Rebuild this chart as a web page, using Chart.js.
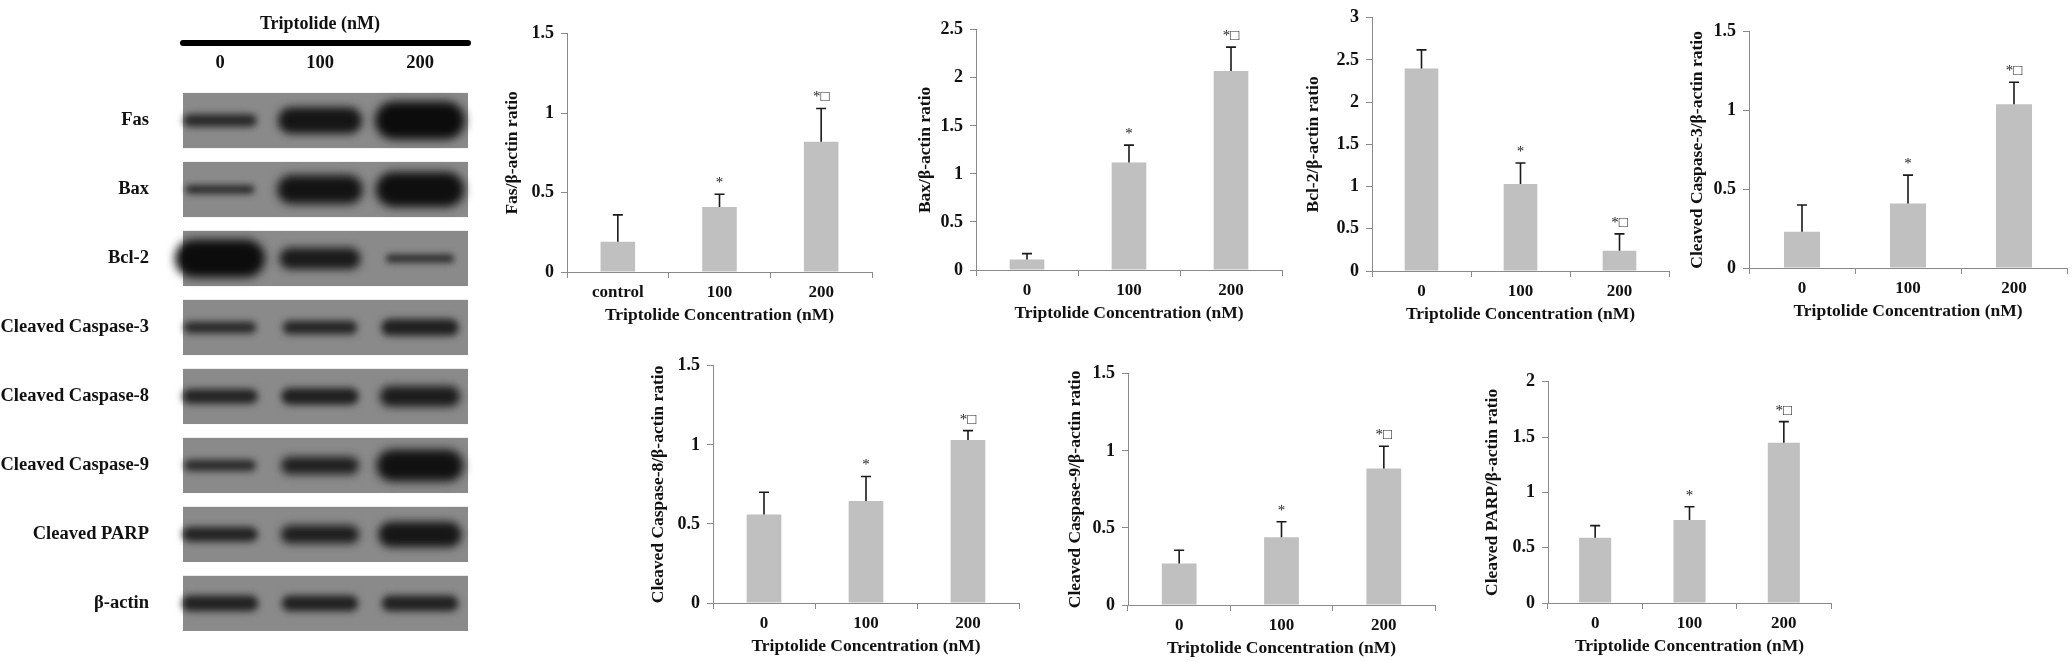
<!DOCTYPE html>
<html>
<head>
<meta charset="utf-8">
<script src="https://cdn.jsdelivr.net/npm/chart.js@4.4.0/dist/chart.umd.min.js"></script>
<style>
  html, body { margin: 0; padding: 0; background: #fff; }
  #fig { position: relative; width: 2072px; height: 662px; overflow: hidden; }
  #fig canvas { position: absolute; }
</style>
</head>
<body>
<div id="fig"></div>
<script>
// ---- data ----
const doseLabels = ['0', '100', '200']
const fasLabels  = ['control', '100', '200']
const marks      = ['', '*', '*\u25A1']

const fasRatio   = [0.19, 0.41, 0.82]
const fasErr     = [0.17, 0.08, 0.21]
const baxRatio   = [0.11, 1.12, 2.07]
const baxErr     = [0.06, 0.18, 0.25]
const bcl2Ratio  = [2.40, 1.03, 0.24]
const bcl2Err    = [0.22, 0.25, 0.20]
const casp3Ratio = [0.23, 0.41, 1.04]
const casp3Err   = [0.17, 0.18, 0.14]
const casp8Ratio = [0.56, 0.645, 1.03]
const casp8Err   = [0.14, 0.155, 0.06]
const casp9Ratio = [0.27, 0.44, 0.885]
const casp9Err   = [0.085, 0.10, 0.145]
const parpRatio  = [0.59, 0.75, 1.45]
const parpErr    = [0.11, 0.12, 0.19]

// western blot: relative band density per protein (rows) and lane (cols)
const blotLanes    = ['0', '100', '200']
const blotProteins = ['Fas', 'Bax', 'Bcl-2', 'Cleaved Caspase-3', 'Cleaved Caspase-8',
                      'Cleaved Caspase-9', 'Cleaved PARP', '\u03B2-actin']
const bandDensity = [
  [0.45, 0.80, 1.00],
  [0.30, 0.85, 0.95],
  [1.00, 0.70, 0.28],
  [0.42, 0.48, 0.58],
  [0.52, 0.58, 0.68],
  [0.40, 0.60, 0.90],
  [0.52, 0.62, 0.78],
  [0.55, 0.55, 0.55],
]

Chart.defaults.font.family = '"Liberation Serif", "Times New Roman", serif'
Chart.defaults.font.weight = 'bold'
Chart.defaults.color = '#111'

const fig = document.getElementById('fig')
const AXIS = '#8a8a8a'

function addCanvas(left, top, w, h) {
  const c = document.createElement('canvas')
  c.width = w; c.height = h
  c.style.left = left + 'px'; c.style.top = top + 'px'
  c.style.width = w + 'px'; c.style.height = h + 'px'
  fig.appendChild(c)
  return c
}

// error bars + significance marks
const errorBars = {
  id: 'errorBars',
  afterDatasetsDraw(chart) {
    const { ctx, scales: { y } } = chart
    const ds = chart.data.datasets[0]
    ctx.save()
    chart.getDatasetMeta(0).data.forEach((bar, i) => {
      const top = y.getPixelForValue(ds.data[i] + ds.errors[i])
      ctx.strokeStyle = '#1a1a1a'; ctx.lineWidth = 1.6
      ctx.beginPath()
      ctx.moveTo(bar.x, bar.y); ctx.lineTo(bar.x, top)
      ctx.moveTo(bar.x - 5, top); ctx.lineTo(bar.x + 5, top)
      ctx.stroke()
      if (ds.marks[i]) {
        ctx.fillStyle = '#222'
        ctx.font = '15px "Liberation Serif", "DejaVu Sans", serif'
        ctx.textAlign = 'center'; ctx.textBaseline = 'alphabetic'
        ctx.fillText(ds.marks[i], bar.x, top - 7)
      }
    })
    ctx.restore()
  }
}

function barPanel(p) {
  const [ax0, ax1, ay0, ay1] = p.box
  const YW = p.gap + 10, XH = 54, padTop = Math.min(14, ay0), padRight = 4
  const cv = addCanvas(ax0 - YW, ay0 - padTop, YW + (ax1 - ax0) + padRight, padTop + (ay1 - ay0) + XH)
  new Chart(cv, {
    type: 'bar',
    data: {
      labels: p.labels,
      datasets: [{ data: p.values, errors: p.errors, marks: marks,
                   backgroundColor: '#c0c0c0', borderWidth: 0,
                   barPercentage: 0.34, categoryPercentage: 1 }]
    },
    plugins: [errorBars],
    options: {
      responsive: false, animation: false,
      layout: { padding: { top: padTop, right: padRight, left: 0, bottom: 0 }, autoPadding: false },
      plugins: { legend: { display: false }, tooltip: { enabled: false } },
      scales: {
        x: {
          grid: { drawOnChartArea: false, color: AXIS, tickLength: 6, offset: true },
          border: { color: AXIS, width: 1 },
          ticks: { font: { size: 17 }, padding: 4, color: '#111' },
          title: { display: true, text: 'Triptolide Concentration (nM)', font: { size: 17.5 }, padding: 0, color: '#111' },
          afterFit: s => { s.height = XH }
        },
        y: {
          min: 0, max: p.max,
          grid: { drawOnChartArea: false, color: AXIS, tickLength: 6 },
          border: { color: AXIS, width: 1 },
          ticks: { stepSize: 0.5, font: { size: 18 }, padding: 7, color: '#111',
                   callback: v => String(Math.round(v * 10) / 10) },
          title: { display: true, text: p.title, font: { size: 17.5 }, padding: 0, color: '#111' },
          afterFit: s => { s.width = YW }
        }
      }
    }
  })
}

// box = [axis left, axis right, y of max, y of 0]
barPanel({ title: 'Fas/\u03B2-actin ratio', labels: fasLabels, values: fasRatio, errors: fasErr, max: 1.5, box: [567, 872, 30, 272], gap: 55 })
barPanel({ title: 'Bax/\u03B2-actin ratio', labels: doseLabels, values: baxRatio, errors: baxErr, max: 2.5, box: [976, 1282, 26, 270], gap: 51 })
barPanel({ title: 'Bcl-2/\u03B2-actin ratio', labels: doseLabels, values: bcl2Ratio, errors: bcl2Err, max: 3, box: [1372, 1669, 10, 271], gap: 59 })
barPanel({ title: 'Cleaved Caspase-3/\u03B2-actin ratio', labels: doseLabels, values: casp3Ratio, errors: casp3Err, max: 1.5, box: [1749, 2067, 28, 268], gap: 52 })
barPanel({ title: 'Cleaved Caspase-8/\u03B2-actin ratio', labels: doseLabels, values: casp8Ratio, errors: casp8Err, max: 1.5, box: [713, 1019, 362, 603], gap: 55 })
barPanel({ title: 'Cleaved Caspase-9/\u03B2-actin ratio', labels: doseLabels, values: casp9Ratio, errors: casp9Err, max: 1.5, box: [1128, 1435, 370, 605], gap: 53 })
barPanel({ title: 'Cleaved PARP/\u03B2-actin ratio', labels: doseLabels, values: parpRatio, errors: parpErr, max: 2, box: [1548, 1831, 378, 603], gap: 56 })

// ---- western blot panel ----
const blotDraw = {
  id: 'blotDraw',
  beforeDatasetsDraw(chart) {
    const { ctx, scales: { x, y } } = chart
    const px = x.getPixelForValue(1) - x.getPixelForValue(0)
    const py = y.getPixelForValue(1) - y.getPixelForValue(0)
    const mL = x.getPixelForValue(0) - 0.37 * px
    const mR = x.getPixelForValue(2) + 0.48 * px
    ctx.save()
    ctx.strokeStyle = '#000'; ctx.lineWidth = 6; ctx.lineCap = 'round'
    ctx.beginPath(); ctx.moveTo(mL, x.top + 43); ctx.lineTo(mR, x.top + 43); ctx.stroke()
    blotProteins.forEach((p, i) => {
      const cy = y.getPixelForValue(i)
      ctx.fillStyle = '#8a8a8a'
      ctx.fillRect(mL, cy - 0.4 * py, mR - mL, 0.8 * py)
    })
    const pts = chart.data.datasets[0].data
    chart.getDatasetMeta(0).data.forEach((pt, k) => {
      const d = pts[k].d
      const hh = 6 + 32 * d * d, ww = 60 + 30 * d
      ctx.filter = `blur(${2.5 + 2.5 * d}px)`
      ctx.fillStyle = `rgba(12,12,12,${0.62 + 0.38 * d})`
      ctx.beginPath()
      if (ctx.roundRect) ctx.roundRect(pt.x - ww / 2, pt.y - hh / 2, ww, hh, hh / 2)
      else ctx.ellipse(pt.x, pt.y, ww / 2, hh / 2, 0, 0, 2 * Math.PI)
      ctx.fill()
    })
    ctx.filter = 'none'
    ctx.restore()
  }
}

const blotCanvas = addCanvas(0, 0, 480, 662)
new Chart(blotCanvas, {
  type: 'scatter',
  data: {
    datasets: [{
      data: blotProteins.flatMap((p, i) => blotLanes.map((l, j) => ({ x: l, y: p, d: bandDensity[i][j] }))),
      pointRadius: 0
    }]
  },
  plugins: [blotDraw],
  options: {
    responsive: false, animation: false,
    layout: { padding: { right: 10, bottom: 23, top: 0, left: 0 }, autoPadding: false },
    plugins: { legend: { display: false }, tooltip: { enabled: false } },
    scales: {
      x: {
        type: 'category', labels: blotLanes, position: 'top', offset: true,
        grid: { display: false }, border: { display: false },
        ticks: { font: { size: 18.5 }, padding: 4, color: '#111' },
        title: { display: true, text: 'Triptolide (nM)', font: { size: 18 }, padding: { top: 14 }, color: '#111' },
        afterFit: s => { s.height = 86 }
      },
      y: {
        type: 'category', labels: blotProteins, offset: true,
        grid: { display: false }, border: { display: false },
        ticks: { font: { size: 18.5 }, padding: 13, color: '#111', autoSkip: false },
        afterFit: s => { s.width = 170 }
      }
    }
  }
})
</script>
</body>
</html>
